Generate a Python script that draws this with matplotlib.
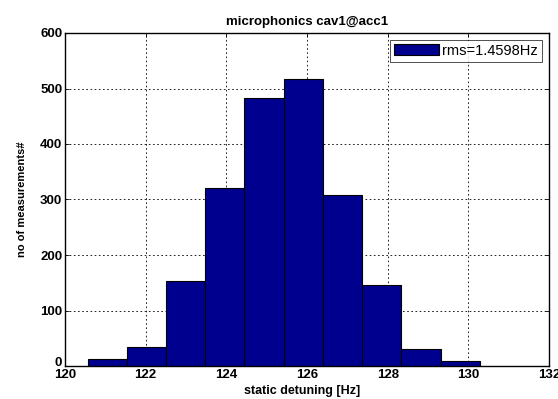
import matplotlib
matplotlib.use("Agg")
import matplotlib.pyplot as plt
import matplotlib.transforms as mtransforms
import numpy as np

bin_edges = [120.56, 121.53, 122.50, 123.48, 124.45, 125.42, 126.39, 127.36, 128.33, 129.31, 130.28]
counts = [12, 35, 154, 320, 482, 517, 308, 146, 30, 9]
x_ticks = [120, 122, 124, 126, 128, 130, 132]
y_ticks = [0, 100, 200, 300, 400, 500, 600]
legend_label = "rms=1.4598Hz"
title = "microphonics cav1@acc1"
xlabel = "static detuning [Hz]"
ylabel = "no of measurements#"

plt.rcParams['font.family'] = ['Liberation Sans', 'DejaVu Sans']

fig = plt.figure(figsize=(5.58, 3.99), dpi=100)
ax = fig.add_axes([65/558, 33/399, 484/558, 333/399])

edges = np.array(bin_edges)
ax.bar(edges[:-1], counts, width=np.diff(edges), align='edge',
       color=(0, 0, 0.5625), edgecolor='black', linewidth=0.8,
       label=legend_label, zorder=2)

ax.set_xlim(120, 132)
ax.set_ylim(0, 600)
ax.set_xticks(x_ticks)
ax.set_yticks(y_ticks)
ax.grid(True, linestyle=(0, (2, 3)), color='black', linewidth=0.6, zorder=0)
ax.set_axisbelow(True)
ax.tick_params(direction='in', length=3, width=0.6, top=True, right=True,
               labelsize=9.5, pad=2)
for lab in ax.get_xticklabels() + ax.get_yticklabels():
    lab.set_fontweight('bold')
# lift the "0" y label slightly above the axis, as in the reference
ylabs = ax.get_yticklabels()
ylabs[0].set_transform(ylabs[0].get_transform() +
                       mtransforms.ScaledTranslation(0, 3/72, fig.dpi_scale_trans))
for s in ax.spines.values():
    s.set_linewidth(1.0)
    s.set_zorder(3)

ax.set_title(title, fontsize=9.5, fontweight='bold', pad=6)
ax.set_xlabel(xlabel, fontsize=9, fontweight='bold', labelpad=3)
ax.xaxis.label.set_x(0.49)
ax.set_ylabel(ylabel, fontsize=8, fontweight='bold', labelpad=9)

leg = ax.legend(loc='upper right', fontsize=10.5, frameon=True, fancybox=False,
                edgecolor='black', handlelength=3.1, handleheight=0.8,
                borderaxespad=0.45, borderpad=0.3, handletextpad=0.2)
leg.get_frame().set_linewidth(0.6)

fig.savefig("out.png", dpi=100)
